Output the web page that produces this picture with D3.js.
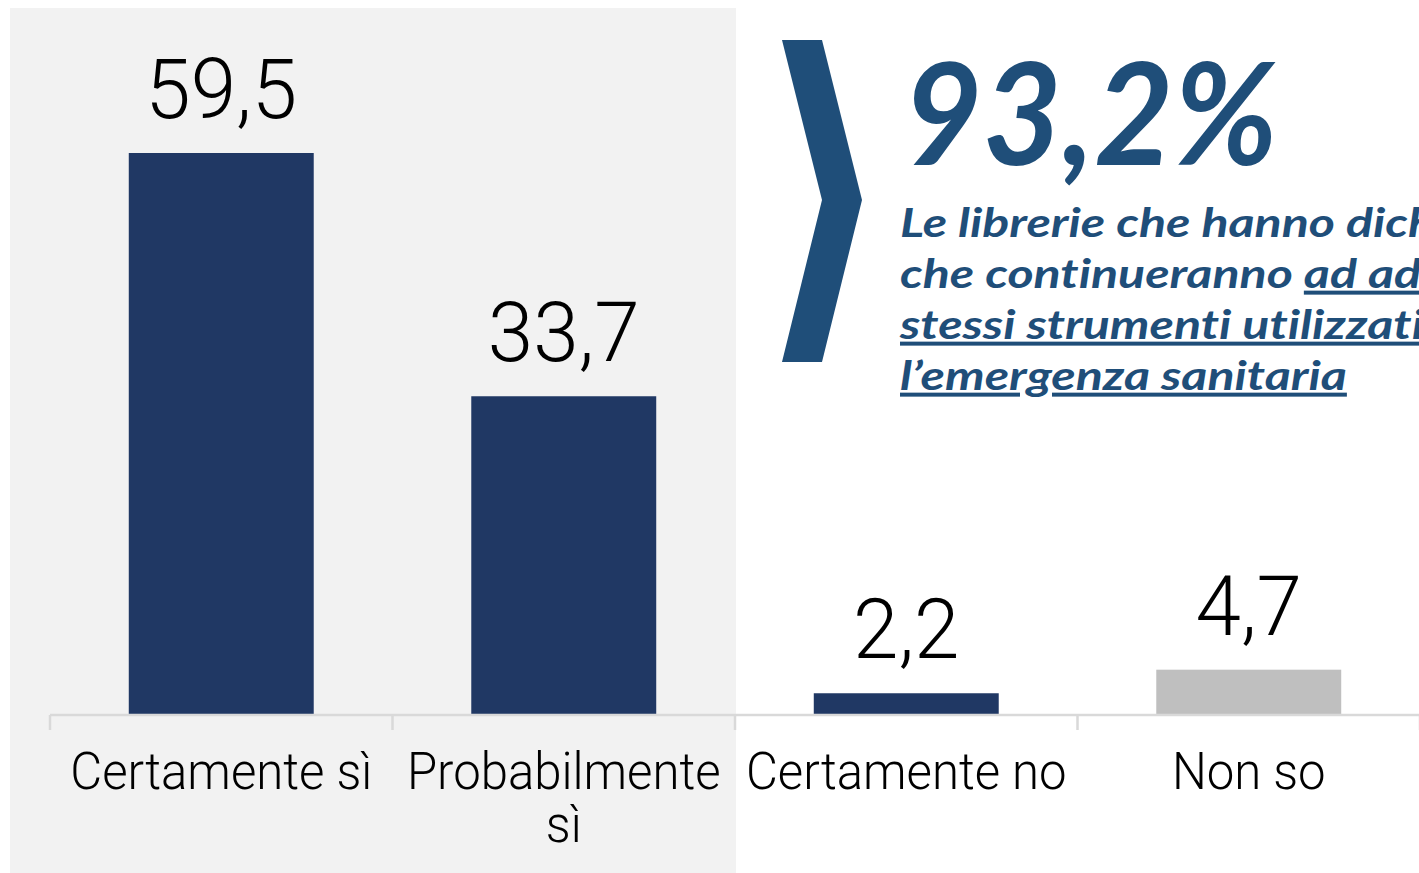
<!DOCTYPE html>
<html>
<head>
<meta charset="utf-8">
<script src="https://cdn.jsdelivr.net/npm/d3@7"></script>
<style>
  body { margin: 0; background: #fff; }
  svg { display: block; }
  text { font-variant-ligatures: none; }
</style>
</head>
<body>
<div id="app"></div>
<script>
// data
const categories = ['Certamente sì', 'Probabilmente sì', 'Certamente no', 'Non so'];
const values = [59.5, 33.7, 2.2, 4.7];
const valueLabels = ['59,5', '33,7', '2,2', '4,7'];
const labelLines = [['Certamente sì'], ['Probabilmente', 'sì'], ['Certamente no'], ['Non so']];
const barColors = ['#203864', '#203864', '#203864', '#bfbfbf'];
const headline = '93,2%';
const noteLines = [
  [{ t: 'Le librerie che hanno dichiarato', u: false }],
  [{ t: 'che continueranno ', u: false }, { t: 'ad adottare gli', u: true }],
  [{ t: 'stessi strumenti utilizzati durante', u: true }],
  [{ t: 'l\u2019emergenza sanitaria', u: true }]
];

const W = 1419, H = 873;
const blue = '#1f4e79';
const labelFont = 'Roboto, "DejaVu Sans", sans-serif';
const boldFont = 'Lato, "Open Sans", sans-serif';

const svg = d3.select('#app')
  .append('svg')
  .attr('width', W)
  .attr('height', H)
  .attr('viewBox', `0 0 ${W} ${H}`);

const x = d3.scaleBand()
  .domain(categories)
  .range([50, 1420])
  .paddingInner(0.46)
  .paddingOuter(0.23);

const y = d3.scaleLinear()
  .domain([0, 70])
  .range([714, 54]);

const gap = (x.step() - x.bandwidth()) / 2;
const bounds = categories.map(c => x(c) - gap).concat([x(categories[3]) + x.bandwidth() + gap]);

// highlight panel behind the "sì" answers
svg.append('rect')
  .attr('x', 10)
  .attr('y', 8)
  .attr('width', bounds[2] + 1 - 10)
  .attr('height', H - 8)
  .attr('fill', '#f2f2f2');

// bars
svg.append('g')
  .selectAll('rect')
  .data(values)
  .join('rect')
  .attr('x', (d, i) => x(categories[i]))
  .attr('y', d => y(d))
  .attr('width', x.bandwidth())
  .attr('height', d => y(0) - y(d))
  .attr('fill', (d, i) => barColors[i]);

// axis
const axis = svg.append('g')
  .attr('stroke', '#d9d9d9')
  .attr('stroke-width', 2.5);

axis.append('line')
  .attr('x1', bounds[0])
  .attr('x2', W)
  .attr('y1', y(0) + 1)
  .attr('y2', y(0) + 1);

axis.selectAll('.tick')
  .data(bounds)
  .join('line')
  .attr('x1', d => d)
  .attr('x2', d => d)
  .attr('y1', y(0) + 1)
  .attr('y2', y(0) + 16);

// squeeze a group of texts to the narrow look of the original
function squeeze(sel, refIndex, refWidth) {
  const nodes = sel.nodes();
  const k = refWidth / nodes[refIndex].getComputedTextLength();
  nodes.forEach(n => {
    const w = n.getComputedTextLength();
    d3.select(n).attr('textLength', w * k).attr('lengthAdjust', 'spacingAndGlyphs');
  });
}

// value labels
const vals = svg.append('g')
  .selectAll('text')
  .data(values)
  .join('text')
  .attr('x', (d, i) => x(categories[i]) + x.bandwidth() / 2)
  .attr('y', d => y(d) - 35)
  .attr('text-anchor', 'middle')
  .attr('font-family', labelFont)
  .attr('font-weight', 300)
  .attr('font-size', 84)
  .attr('fill', '#000')
  .text((d, i) => valueLabels[i]);
squeeze(vals, 0, 152);

// category labels
const catRows = [];
labelLines.forEach((lines, i) => {
  lines.forEach((line, j) => catRows.push({ i, j, line }));
});
const cats = svg.append('g')
  .selectAll('text')
  .data(catRows)
  .join('text')
  .attr('x', d => x(categories[d.i]) + x.bandwidth() / 2)
  .attr('y', d => 789 + d.j * 53)
  .attr('text-anchor', 'middle')
  .attr('font-family', labelFont)
  .attr('font-weight', 300)
  .attr('font-size', 52)
  .attr('fill', '#000')
  .text(d => d.line);
squeeze(cats, 0, 302);

// chevron
svg.append('path')
  .attr('d', 'M782,40 L822,40 L862,200 L822,362 L782,362 L822,200 Z')
  .attr('fill', blue);

// headline
const head = svg.append('text')
  .attr('x', 903)
  .attr('y', 165)
  .attr('font-family', boldFont)
  .attr('font-weight', 700)
  .attr('font-style', 'italic')
  .attr('font-size', 142)
  .attr('fill', blue)
  .text(headline);
head.attr('textLength', 375).attr('lengthAdjust', 'spacingAndGlyphs');

// note text
const note = svg.append('g');
const noteTexts = note.selectAll('text')
  .data(noteLines)
  .join('text')
  .attr('x', 0)
  .attr('y', (d, i) => 237 + i * 51)
  .attr('font-family', boldFont)
  .attr('font-weight', 700)
  .attr('font-style', 'italic')
  .attr('font-size', 40)
  .attr('fill', blue);

noteTexts.selectAll('tspan')
  .data(d => d)
  .join('tspan')
  .style('text-decoration', d => d.u ? 'underline' : 'none')
  .text(d => d.t);

const k = 447 / noteTexts.nodes()[3].getComputedTextLength();
note.attr('transform', `translate(900,0) scale(${k},1)`);
</script>
</body>
</html>
